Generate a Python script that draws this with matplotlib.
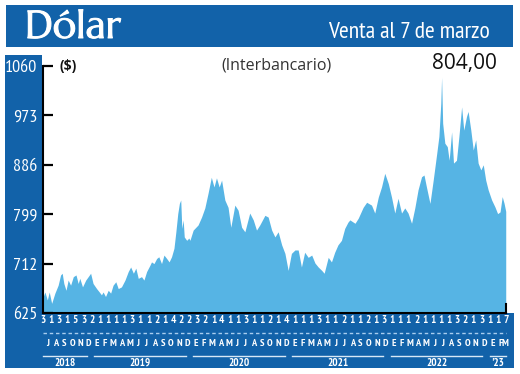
import matplotlib
matplotlib.use('Agg')
import matplotlib.pyplot as plt
import matplotlib.transforms as mtransforms
import matplotlib.patheffects as pe
from matplotlib.patches import Rectangle
import pandas as pd

# ---------------- data ----------------
dates = [
    "2018-07-02", "2018-07-08", "2018-07-17", "2018-07-24", "2018-08-02", "2018-08-14", "2018-08-26",
    "2018-09-04", "2018-09-10", "2018-09-16", "2018-09-24", "2018-10-02", "2018-10-11", "2018-10-21",
    "2018-10-31", "2018-11-08", "2018-11-14", "2018-11-24", "2018-12-06", "2018-12-15", "2018-12-24",
    "2019-01-02", "2019-01-15", "2019-01-25", "2019-02-02", "2019-02-08", "2019-02-17", "2019-02-27",
    "2019-03-08", "2019-03-17", "2019-03-27", "2019-04-05", "2019-04-17", "2019-04-30", "2019-05-12",
    "2019-05-21", "2019-05-31", "2019-06-09", "2019-06-18", "2019-06-30", "2019-07-09", "2019-07-19",
    "2019-07-31", "2019-08-06", "2019-08-15", "2019-08-25", "2019-09-02", "2019-09-12", "2019-09-21",
    "2019-10-01", "2019-10-10", "2019-10-19", "2019-10-28", "2019-11-04", "2019-11-11", "2019-11-17",
    "2019-11-22", "2019-11-26", "2019-12-01", "2019-12-05", "2019-12-14", "2019-12-22", "2019-12-26",
    "2020-01-07", "2020-01-25", "2020-02-07", "2020-02-19", "2020-03-02", "2020-03-14", "2020-03-24",
    "2020-04-02", "2020-04-12", "2020-04-21", "2020-05-03", "2020-05-15", "2020-05-25", "2020-06-09",
    "2020-06-21", "2020-07-04", "2020-07-16", "2020-08-03", "2020-08-16", "2020-08-28", "2020-09-09",
    "2020-09-28", "2020-10-10", "2020-10-23", "2020-11-04", "2020-11-16", "2020-11-29", "2020-12-11",
    "2020-12-23",
    "2021-01-04", "2021-01-17", "2021-01-29", "2021-02-10", "2021-02-22", "2021-03-07", "2021-03-20",
    "2021-04-01", "2021-04-13", "2021-04-26", "2021-05-05", "2021-05-20", "2021-06-01", "2021-06-13",
    "2021-06-25", "2021-07-08", "2021-07-20", "2021-08-01", "2021-08-08", "2021-08-27", "2021-09-08",
    "2021-09-26", "2021-10-09", "2021-10-27", "2021-11-08", "2021-11-21", "2021-12-03", "2021-12-15",
    "2021-12-28",
    "2022-01-09", "2022-01-21", "2022-02-02", "2022-02-15", "2022-02-27", "2022-03-11", "2022-03-24",
    "2022-04-05", "2022-04-17", "2022-04-30", "2022-05-09", "2022-05-18", "2022-05-31", "2022-06-12",
    "2022-06-25", "2022-07-03", "2022-07-10", "2022-07-13", "2022-07-17", "2022-07-25", "2022-08-03",
    "2022-08-10", "2022-08-19", "2022-08-26", "2022-09-06", "2022-09-15", "2022-09-25", "2022-10-03",
    "2022-10-13", "2022-10-19", "2022-10-29", "2022-11-07", "2022-11-16", "2022-11-25", "2022-12-05",
    "2022-12-14", "2022-12-23",
    "2023-01-01", "2023-01-14", "2023-01-26", "2023-02-05", "2023-02-14", "2023-02-22", "2023-03-01",
    "2023-03-07",
]

values = [
    654, 662, 648, 662, 642, 660, 674, 692, 695, 677, 665, 683, 674, 689, 692, 677, 686, 671, 683, 689, 695,
    677, 668, 662, 657, 662, 654, 665, 660, 674, 680, 668, 671, 683, 698, 706, 695, 704, 686, 689, 683,
    698, 709, 715, 712, 721, 724, 712, 727, 721, 715, 724, 739, 768, 800, 818, 824, 774, 789, 759, 753,
    757, 753,
    771, 780, 794, 810, 836, 864, 847, 863, 847, 859, 824, 811, 776, 815, 806, 776, 768, 801, 789, 771,
    780, 797, 794, 771, 759, 768, 745, 730, 700,
    730, 736, 736, 706, 732, 723, 727, 713, 706, 700, 695, 723, 715, 732, 745, 753, 774, 785, 789, 783,
    792, 811, 820, 815, 801, 829, 847, 871, 853,
    829, 801, 827, 801, 810, 801, 783, 810, 842, 865, 868, 847, 818, 859, 906, 936, 994, 1040, 959, 924,
    918, 894, 944, 889, 894, 936, 988, 947, 971, 980, 947, 912, 930, 889, 877, 886, 859,
    842, 824, 812, 800, 803, 830, 818, 804,
]

y_ticks = [625, 712, 799, 886, 973, 1060]

# first quoted day of each month (Jul 2018 .. Mar 2023) plus last day shown
day_labels = ["3", "1", "3", "1", "5", "3",
              "2", "1", "1", "1", "1", "3", "1", "1", "2", "1", "4", "2",
              "2", "3", "2", "1", "4", "1", "1", "3", "1", "1", "2", "1",
              "4", "1", "1", "1", "3", "1", "1", "2", "1", "1", "2", "1",
              "3", "1", "1", "1", "2", "1", "1", "1", "1", "3", "2", "1",
              "3", "1", "1", "7"]

month_abbr = ["E", "F", "M", "A", "M", "J", "J", "A", "S", "O", "N", "D"]
year_labels = ["2018", "2019", "2020", "2021", "2022", "'23"]
year_numbers = [2018, 2019, 2020, 2021, 2022, 2023]

start_date = "2018-07-01"
end_date = "2023-03-08"

title = "Dólar"
subtitle = "Venta al 7 de marzo"
unit_label = "($)"
series_label = "(Interbancario)"
last_value = "804,00"

# ---------------- style ----------------
BLUE = '#1262a9'
AREA = '#56b4e4'
NARROW = ['PT Sans Narrow', 'DejaVu Sans']
SANS = ['Open Sans', 'DejaVu Sans']
TITLE = ['Marcellus', 'DejaVu Sans']
W, H = 520, 374

fig = plt.figure(figsize=(5.2, 3.74), dpi=100)
fig.patch.set_facecolor('white')


def add_rect(x0, y0, x1, y1):
    fig.patches.append(Rectangle((x0 / W, 1 - y1 / H), (x1 - x0) / W, (y1 - y0) / H,
                                 transform=fig.transFigure, fc=BLUE, ec='none', zorder=-1))


add_rect(6, 5, 513, 47)      # header band
add_rect(5, 55, 42, 368)     # left y-label column
add_rect(5, 313, 514, 368)   # bottom band

ax = fig.add_axes([43 / W, 1 - 313 / H, 463 / W, 247 / H])
dts = pd.to_datetime(dates)
ax.fill_between(dts, values, y_ticks[0], color=AREA, lw=0)
x0, x1 = pd.Timestamp(start_date), pd.Timestamp(end_date)
ax.set_xlim(x0, x1)
ax.set_ylim(y_ticks[0], y_ticks[-1])
ax.set_yticks(y_ticks)
ax.set_yticklabels([str(v) for v in y_ticks])
ax.tick_params(axis='y', direction='in', length=7, width=1.6, colors='k',
               labelcolor='white', labelsize=13, pad=4)
for lbl in ax.get_yticklabels():
    lbl.set_family(NARROW)
ax.set_xticks([])
for s in ('top', 'right'):
    ax.spines[s].set_visible(False)
for s in ('left', 'bottom'):
    ax.spines[s].set_color('k')
    ax.spines[s].set_linewidth(1.5)
ax.plot([1, 1], [0, 0.035], transform=ax.transAxes, color='k', lw=1.5, clip_on=False)

# ---------------- bottom band ----------------
def ay(ypx):
    return (313 - ypx) / 247


n = len(day_labels) - 1
for i, d in enumerate(day_labels):
    ax.text(i / n, ay(320), d, transform=ax.transAxes, ha='center', va='center',
            color='white', fontsize=8, fontweight='bold', family=NARROW, clip_on=False)

ax.plot([0, 1], [ay(333), ay(333)], transform=ax.transAxes, color='#a8cdef',
        lw=1, ls=(0, (2.5, 2)), clip_on=False)

btf = mtransforms.blended_transform_factory(ax.transData, ax.transAxes)
month_starts = pd.date_range(start_date, end_date, freq='MS')
for ms in month_starts:
    me = min(ms + pd.offsets.MonthBegin(1), x1)
    mid = ms + (me - ms) / 2
    ax.text(mid, ay(343), month_abbr[ms.month - 1], transform=btf, ha='center', va='center',
            color='white', fontsize=7.5, fontweight='bold', family=NARROW, clip_on=False)

for yl, yn in zip(year_labels, year_numbers):
    ys = max(pd.Timestamp(f"{yn}-01-01"), x0)
    ye = min(pd.Timestamp(f"{yn + 1}-01-01"), x1)
    a = ys + pd.Timedelta(days=6 if yn > 2018 else 0)
    b = ye - pd.Timedelta(days=22 if yn < 2023 else 0)
    ax.plot([a, b], [ay(356), ay(356)], transform=btf, color='#d8e8f6', lw=1, clip_on=False)
    ax.text(a + (b - a) / 2, ay(363), yl, transform=btf, ha='center', va='center',
            color='white', fontsize=8, fontweight='bold', family=NARROW, clip_on=False)

# ---------------- header texts ----------------
fig.text(25 / W, 1 - 38 / H, title, color='white', fontsize=28, family=TITLE,
         ha='left', va='baseline',
         path_effects=[pe.withStroke(linewidth=0.7, foreground='white')])
fig.text(490 / W, 1 - 38 / H, subtitle, color='white', fontsize=17, family=NARROW,
         ha='right', va='baseline')
fig.text(60 / W, 1 - 66 / H, unit_label, color='#111111', fontsize=10, fontweight='bold',
         family=SANS, ha='left', va='center')
fig.text(277 / W, 1 - 65 / H, series_label, color='#333333', fontsize=11.5, family=SANS,
         ha='center', va='center')
fig.text(497 / W, 1 - 63 / H, last_value, color='#111111', fontsize=15, family=SANS,
         ha='right', va='center')

fig.savefig('out.png', dpi=100)
